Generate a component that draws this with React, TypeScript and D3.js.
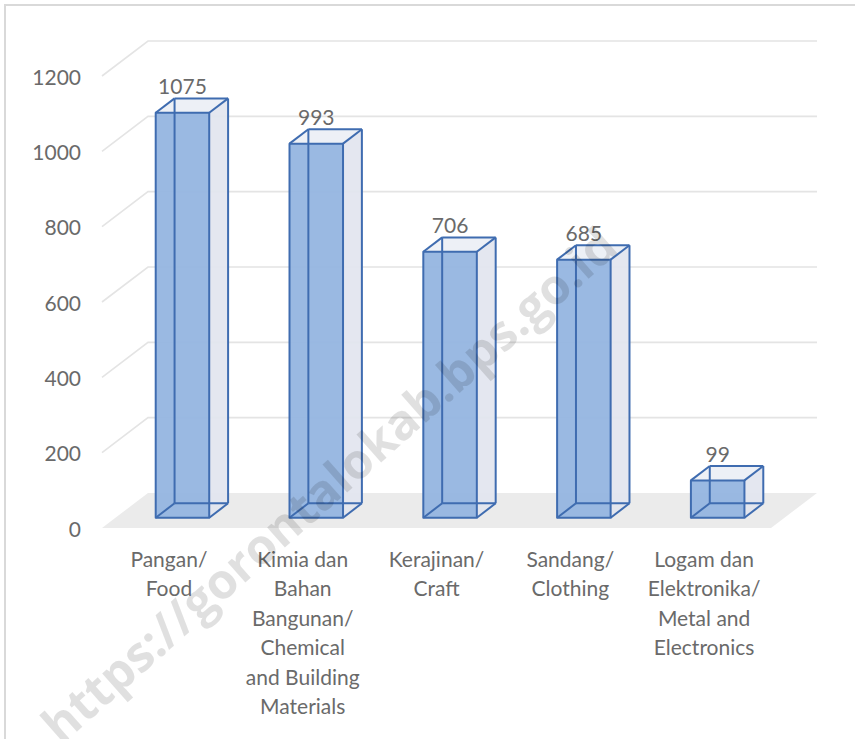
import React from "react";
import * as d3 from "d3";

const categories = ["Pangan", "Kimia", "Kerajinan", "Sandang", "Logam"];
const categoryLabels: string[][] = [
  ["Pangan/", "Food"],
  ["Kimia dan", "Bahan", "Bangunan/", "Chemical", "and Building", "Materials"],
  ["Kerajinan/", "Craft"],
  ["Sandang/", "Clothing"],
  ["Logam dan", "Elektronika/", "Metal and", "Electronics"],
];
const values = [1075, 993, 706, 685, 99];
const yTicks = [0, 200, 400, 600, 800, 1000, 1200];

const W = 855;
const H = 739;
const FONT = "Lato, 'Open Sans', sans-serif";
const TXT = "#6a6a6a";

export default function App() {
  const y = d3.scaleLinear().domain([0, 1200]).range([528, 76]);
  const x = d3
    .scaleBand<string>()
    .domain(categories)
    .range([102, 771])
    .paddingInner(0.6)
    .paddingOuter(0.3);
  const xl = d3.scaleBand<string>().domain(categories).range([102, 771]);
  const DX = 46;
  const DY = -35;
  const P = (px: number, v: number, f: number): [number, number] => [px + DX * f, y(v) + DY * f];
  const poly = (pts: [number, number][]) => pts.map((p) => p.join(",")).join(" ");
  const line = (a: [number, number], b: [number, number], k: string, props: any) => (
    <line key={k} x1={a[0]} y1={a[1]} x2={b[0]} y2={b[1]} {...props} />
  );

  const f0 = 0.295;
  const f1 = 0.705;
  const edge = { stroke: "#3f6cb0", strokeWidth: 2, strokeLinejoin: "round" };

  return (
    <svg
      width={W}
      height={H}
      style={{ position: "absolute", left: 0, top: 0, background: "#fff" }}
      fontFamily={FONT}
    >
      <rect x={5} y={5} width={870} height={760} fill="#fff" stroke="#d9d9d9" strokeWidth={2} />
      {/* floor */}
      <polygon
        points={poly([P(102, 0, 0), P(771, 0, 0), P(771, 0, 1), P(102, 0, 1)])}
        fill="#ebebeb"
      />
      {/* gridlines */}
      {yTicks
        .filter((t) => t > 0)
        .map((t) => (
          <polyline
            key={"g" + t}
            points={poly([P(102, t, 0), P(102, t, 1), P(771, t, 1)])}
            fill="none"
            stroke="#e4e4e4"
            strokeWidth={1.6}
          />
        ))}
      {/* y labels */}
      {yTicks.map((t) => (
        <text
          key={"yl" + t}
          x={81}
          y={y(t)}
          textAnchor="end"
          dominantBaseline="central"
          fontSize={21}
          fill={TXT}
        >
          {t}
        </text>
      ))}
      {/* bars */}
      {categories.map((c, i) => {
        const v = values[i];
        const x0 = x(c)!;
        const x1 = x0 + x.bandwidth();
        const fbl = P(x0, 0, f0), fbr = P(x1, 0, f0), ftr = P(x1, v, f0), ftl = P(x0, v, f0);
        const bbl = P(x0, 0, f1), bbr = P(x1, 0, f1), btr = P(x1, v, f1), btl = P(x0, v, f1);
        return (
          <g key={"b" + c}>
            <polygon points={poly([bbl, bbr, btr, btl])} fill="#dfe5ef" fillOpacity={0.5} />
            <polygon points={poly([fbr, bbr, btr, ftr])} fill="#e2e6ee" fillOpacity={0.9} />
            <polygon points={poly([ftl, ftr, btr, btl])} fill="#eceff5" fillOpacity={0.9} />
            <polygon points={poly([fbl, fbr, ftr, ftl])} fill="#95b5e0" fillOpacity={0.95} />
            {line(bbl, btl, "e1", edge)}
            {line(bbl, bbr, "e2", edge)}
            {line(bbl, fbl, "e3", edge)}
            {line(bbr, btr, "e4", edge)}
            {line(btl, btr, "e5", edge)}
            {line(btl, ftl, "e6", edge)}
            {line(btr, ftr, "e7", edge)}
            {line(bbr, fbr, "e8", edge)}
            <polygon points={poly([fbl, fbr, ftr, ftl])} fill="none" {...edge} />
            <text
              x={(x0 + x1) / 2 + DX * f0}
              y={btl[1] - 4}
              textAnchor="middle"
              fontSize={21}
              fill={TXT}
            >
              {v}
            </text>
          </g>
        );
      })}
      {/* x labels */}
      {categories.map((c, i) => (
        <text key={"xl" + c} textAnchor="middle" fontSize={21} fill={TXT}>
          {categoryLabels[i].map((ln, j) => (
            <tspan
              key={j}
              x={xl(c)! + xl.bandwidth() / 2}
              y={558 + j * 29.5}
              dominantBaseline="central"
            >
              {ln}
            </tspan>
          ))}
        </text>
      ))}
      {/* watermark */}
      <text
        x={328}
        y={484}
        transform="rotate(-41.5 328 484)"
        textAnchor="middle"
        dominantBaseline="central"
        fontSize={49}
        fontWeight={700}
        fill="#000"
        fillOpacity={0.12}
        fontFamily="'Open Sans', sans-serif"
      >
        https://gorontalokab.bps.go.id
      </text>
    </svg>
  );
}
